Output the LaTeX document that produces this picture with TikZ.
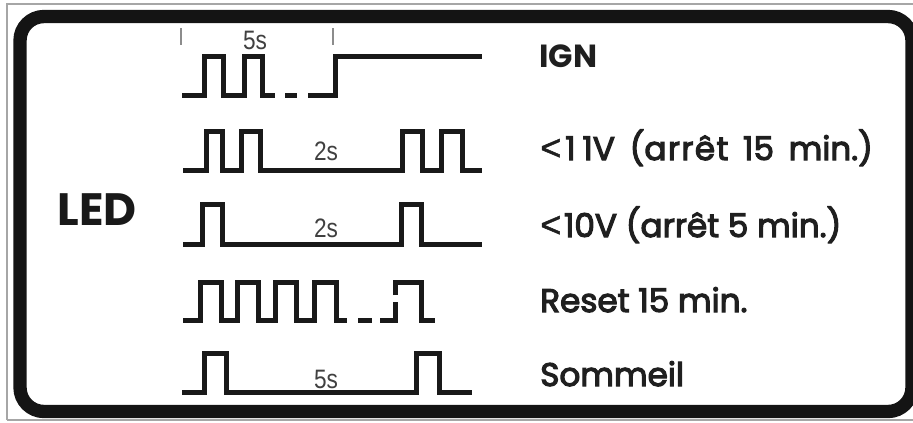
\documentclass[tikz,border=0pt]{standalone}
\usepackage{fontspec}
\usepackage{graphicx}
\setmainfont{Poppins}
\newfontfamily\lblf[FakeBold=3.5,Numbers=Monospaced]{Poppins}
\newfontfamily\ltf[FakeBold=1.5]{Liberation Sans}
\newfontfamily\narrowf{Liberation Sans}
\newcommand{\lessthan}{{\ltf\fontsize{27}{30}\selectfont <}}
\begin{document}
\begin{tikzpicture}[x=0.75pt,y=-0.75pt,
  wave/.style={line width=3.75pt, line join=miter, line cap=butt, draw=black!90},
  tick/.style={line width=1.2pt, draw=black!45},
  lbl/.style={anchor=base west, inner sep=0pt, font=\lblf\fontsize{24.5}{28}\selectfont, text=black!88},
  dur/.style={anchor=base, inner sep=0pt, text=black!75, font=\narrowf\fontsize{20}{24}\selectfont}]
\useasboundingbox (0,0) rectangle (913,422);
% outer thin frame
\draw[line width=1.2pt, black!35] (7,420) -- (7,4) -- (913,4);
\draw[line width=1.2pt, black!35] (7,420) -- (913,420);
% thick rounded border
\draw[line width=10pt, draw=black!92, rounded corners=18pt] (20,16.5) rectangle (912,411.5);
% LED label
\node[anchor=base, inner sep=0pt, font=\fontsize{34}{40}\selectfont\bfseries, text=black!90] (led) at (97,225) {LED};
% Row 1: IGN
\draw[tick] (181,28) -- (181,45);
\draw[tick] (333,28) -- (333,45);
\node[dur] (d1) at (255,49) {\scalebox{0.85}[1]{5s}};
\draw[wave] (182,95) -- (204,95) -- (204,56) -- (223,56) -- (223,95) -- (244,95) -- (244,56) -- (262,56) -- (262,95) -- (275,95);
\draw[wave] (285,95) -- (297,95);
\draw[wave] (308,95) -- (335,95) -- (335,56) -- (482,56);
\node[lbl, font=\fontsize{24}{28}\selectfont\bfseries] (l1) at (539,67) {IGN};
% Row 2: <11V
\draw[wave] (183,170) -- (206,170) -- (206,131) -- (222,131) -- (222,170) -- (241,170) -- (241,131) -- (260,131) -- (260,170)
  -- (402,170) -- (402,131) -- (422,131) -- (422,170) -- (441,170) -- (441,131) -- (462,131) -- (462,170) -- (482,170);
\node[dur] (d2) at (326,160) {\scalebox{0.85}[1]{2s}};
\node[lbl] (l2) at (540,160) {\spaceskip=11pt\lessthan\kern3pt 1\kern5pt 1V (a\kern1pt r\kern1pt r\kern1pt ê\kern1pt t 15 min.)};
% Row 3: <10V
\draw[wave] (183,244) -- (202,244) -- (202,204) -- (222,204) -- (222,244) -- (401,244) -- (401,204) -- (421,204) -- (421,244) -- (482,244);
\node[dur] (d3) at (326,237) {\scalebox{0.85}[1]{2s}};
\node[lbl] (l3) at (540,237) {\lessthan\kern2pt 10V (arrêt 5 min.)};
% Row 4: Reset
\draw[wave] (183,320) -- (200,320) -- (200,282) -- (221,282) -- (221,320) -- (237,320) -- (237,282) -- (258,282) -- (258,320)
  -- (275,320) -- (275,282) -- (296,282) -- (296,320) -- (314,320) -- (314,282) -- (336,282) -- (336,320) -- (347,320);
\draw[wave] (358,320) -- (372,320);
\draw[wave] (380,320) -- (395,320) -- (395,302);
\draw[wave] (395,295) -- (395,282) -- (421,282) -- (421,320) -- (435,320);
\node[lbl] (l4) at (540,312) {Reset 15 min.};
% Row 5: Sommeil
\draw[wave] (182,392) -- (204,392) -- (204,353) -- (226,353) -- (226,392) -- (416,392) -- (416,353) -- (439,353) -- (439,392) -- (472,392);
\node[dur] (d5) at (326,388) {\scalebox{0.85}[1]{5s}};
\node[lbl] (l5) at (540,386) {Sommeil};
\end{tikzpicture}
\end{document}
